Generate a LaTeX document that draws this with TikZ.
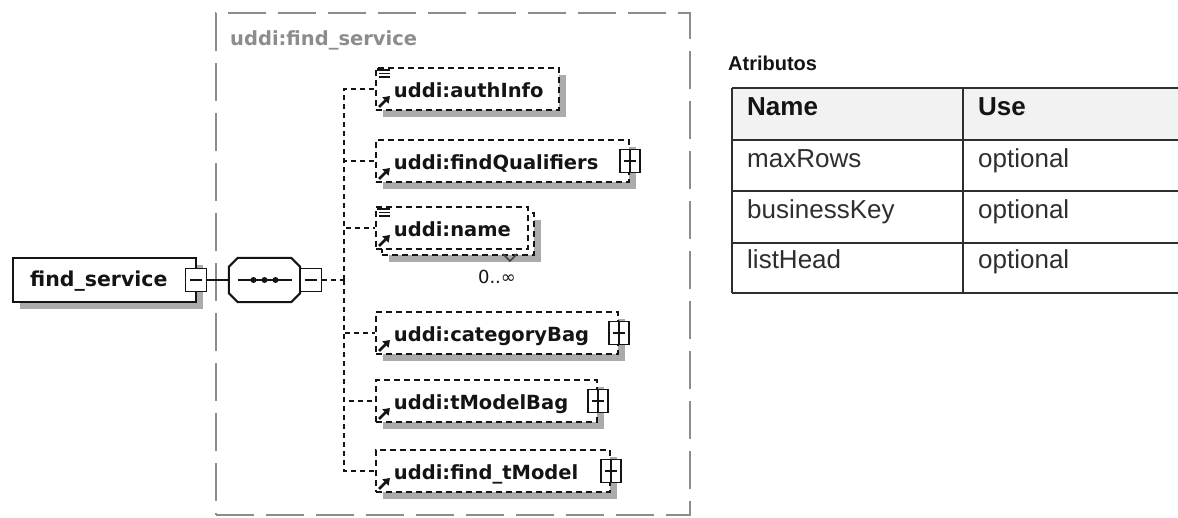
\documentclass[tikz,border=0pt]{standalone}
\usepackage{fontspec}
\setmainfont{Liberation Sans}
\newfontfamily\xsdfont{DejaVu Sans}
\usetikzlibrary{shadows,arrows.meta,calc}

\definecolor{shade}{HTML}{ABABAB}
\definecolor{grpgray}{HTML}{8C8C8C}
\definecolor{ink}{HTML}{141414}
\definecolor{cellink}{HTML}{2E2E2E}
\definecolor{headfill}{HTML}{F2F2F2}

\tikzset{
  boxshadow/.style={drop shadow={shadow xshift=7pt,shadow yshift=-7pt,fill=shade,opacity=1}},
  elem/.style={draw=ink, line width=1.9pt, dash pattern=on 6pt off 4pt, fill=white,
    rectangle, minimum height=42pt, inner xsep=18pt, inner ysep=0pt, anchor=west,
    align=left, text=ink, font=\xsdfont\bfseries\fontsize{19.5}{19.5}\selectfont,
    text height=16pt, text depth=0pt},
  elemsh/.style={elem, boxshadow},
  rootbox/.style={draw=ink, line width=2.2pt, fill=white, boxshadow, rectangle,
    minimum height=44pt, minimum width=183pt, inner xsep=17pt, inner ysep=0pt,
    anchor=west, align=left, text width=149pt, text=ink,
    font=\xsdfont\bfseries\fontsize{20.5}{20.5}\selectfont, text height=15pt, text depth=3pt},
  toggle/.style={draw=ink, line width=1.7pt, fill=white, rectangle,
    minimum width=21pt, minimum height=23pt, inner sep=0pt},
  conn/.style={draw=ink, line width=1.7pt},
  dconn/.style={draw=ink, line width=1.8pt, dash pattern=on 5pt off 4pt},
  grpbox/.style={draw=grpgray, line width=2pt, dash pattern=on 38pt off 12pt,
    rectangle, minimum width=474pt, minimum height=502pt, inner sep=0pt},
  tline/.style={draw=cellink, line width=2pt},
  cell/.style={anchor=base west, inner sep=0pt, text=cellink,
    font=\fontsize{26}{26}\selectfont},
  refarrow/.pic={\draw[ink, line width=2.6pt, -{Triangle[length=6.5pt,width=8.5pt]}] (0,0) -- (11,-11);},
  docicon/.pic={\draw[ink, line width=1.5pt] (0,0) -- (11,0) (0,3.5) -- (11,3.5) (0,7) -- (11,7);
                \draw[ink, line width=1.5pt] (-1,-2) -- (-1,1);}
}

\begin{document}
\begin{tikzpicture}[x=1pt,y=-1pt]
\useasboundingbox (0,0) rectangle (1178,517);

% group frame of the sequence content
\node[grpbox] (grp) at (453,264) {};
\node[anchor=west, inner sep=0pt, text=grpgray,
  font=\xsdfont\bfseries\fontsize{19.5}{19.5}\selectfont] (grplabel) at (230,40) {uddi:find\_service};

% root element
\node[rootbox] (root) at (12,280) {find\_service};
\node[toggle] (rootm) at (196,280) {};
\draw[ink, line width=1.6pt] ([xshift=-6pt]rootm.center) -- ([xshift=6pt]rootm.center);

% sequence compositor (octagon with shadow)
\node[minimum width=71pt, minimum height=44pt, inner sep=0pt] (seq) at (264.5,280) {};
\fill[shade, shift={(6pt,-6pt)}]
  ([xshift=9pt]seq.north west) -- ([xshift=-9pt]seq.north east) -- ([yshift=-9pt]seq.north east)
  -- ([yshift=9pt]seq.south east) -- ([xshift=-9pt]seq.south east) -- ([xshift=9pt]seq.south west)
  -- ([yshift=9pt]seq.south west) -- ([yshift=-9pt]seq.north west) -- cycle;
\filldraw[fill=white, draw=ink, line width=2pt]
  ([xshift=9pt]seq.north west) -- ([xshift=-9pt]seq.north east) -- ([yshift=-9pt]seq.north east)
  -- ([yshift=9pt]seq.south east) -- ([xshift=-9pt]seq.south east) -- ([xshift=9pt]seq.south west)
  -- ([yshift=9pt]seq.south west) -- ([yshift=-9pt]seq.north west) -- cycle;
\draw[ink, line width=1.6pt] ([xshift=-27pt]seq.center) -- ([xshift=27pt]seq.center);
\foreach \dx in {-11,0,11} \fill[ink] ([xshift=\dx pt]seq.center) circle (3pt);
\node[toggle] (seqm) at (311,280) {};
\draw[ink, line width=1.6pt] ([xshift=-6pt]seqm.center) -- ([xshift=6pt]seqm.center);

\draw[conn] (rootm.east) -- (seq.west);
\coordinate (bus) at (344,280);
\draw[dconn] (seqm.east) -- (bus);

% child elements
\node[elemsh, minimum width=183pt, text width=147pt] (auth) at (375,89) {uddi:authInfo};
\node[elemsh, minimum width=253pt, text width=217pt] (findq) at (375,161) {uddi:findQualifiers};
\node[elemsh, minimum width=152pt, text width=116pt] (nameback) at (381,234) {};
\node[elem, minimum width=152pt, text width=116pt] (name) at (375,228) {uddi:name};
\node[elemsh, minimum width=242pt, text width=206pt] (catbag) at (375,333) {uddi:categoryBag};
\node[elemsh, minimum width=221pt, text width=185pt] (tmbag) at (375,401) {uddi:tModelBag};
\node[elemsh, minimum width=234pt, text width=198pt] (findtm) at (375,471) {uddi:find\_tModel};

% occurrence marker of uddi:name
\draw[ink!80, line width=1.5pt] (503,254) -- (510,261) -- (517,254);
\node[inner sep=0pt, text=ink, font=\xsdfont\fontsize{18}{18}\selectfont] (occ) at (497,277) {0..∞};

% expand toggles
\foreach \nd in {findq,catbag,tmbag,findtm}{
  \node[toggle, minimum width=20pt] (\nd p) at (\nd.east) {};
  \draw[ink, line width=1.6pt] ([xshift=-6pt]\nd p.center) -- ([xshift=6pt]\nd p.center);
  \draw[ink, line width=1.6pt] (\nd p.north) -- (\nd p.south);
}

% reference arrows and content icons
\foreach \nd in {auth,findq,name,catbag,tmbag,findtm}
  \pic at ([xshift=4pt,yshift=4pt]\nd.south west) {refarrow};
\pic at ([xshift=4pt,yshift=-3pt]auth.north west) {docicon};
\pic at ([xshift=4pt,yshift=-3pt]name.north west) {docicon};

% connectors from the sequence to each child
\foreach \nd in {auth,findq,name,catbag,tmbag,findtm}
  \draw[dconn] (bus) |- (\nd.west);

% attribute table
\node[anchor=base west, inner sep=0pt, text=ink,
  font=\bfseries\fontsize{20}{20}\selectfont] (attrtitle) at (728,70) {Atributos};
\fill[headfill] (732,88) rectangle (1178,140);
\foreach \yy in {88,140,191,243,293} \draw[tline] (732,\yy) -- (1178,\yy);
\draw[tline] (732,88) -- (732,293);
\draw[tline] (963,88) -- (963,293);
\node[cell, font=\bfseries\fontsize{26}{26}\selectfont, text=ink] (hname) at (747,115) {Name};
\node[cell, font=\bfseries\fontsize{26}{26}\selectfont, text=ink] (huse) at (978,115) {Use};
\node[cell] (r1a) at (747,167) {maxRows};
\node[cell] (r1b) at (978,167) {optional};
\node[cell] (r2a) at (747,218) {businessKey};
\node[cell] (r2b) at (978,218) {optional};
\node[cell] (r3a) at (747,268) {listHead};
\node[cell] (r3b) at (978,268) {optional};
\end{tikzpicture}
\end{document}
